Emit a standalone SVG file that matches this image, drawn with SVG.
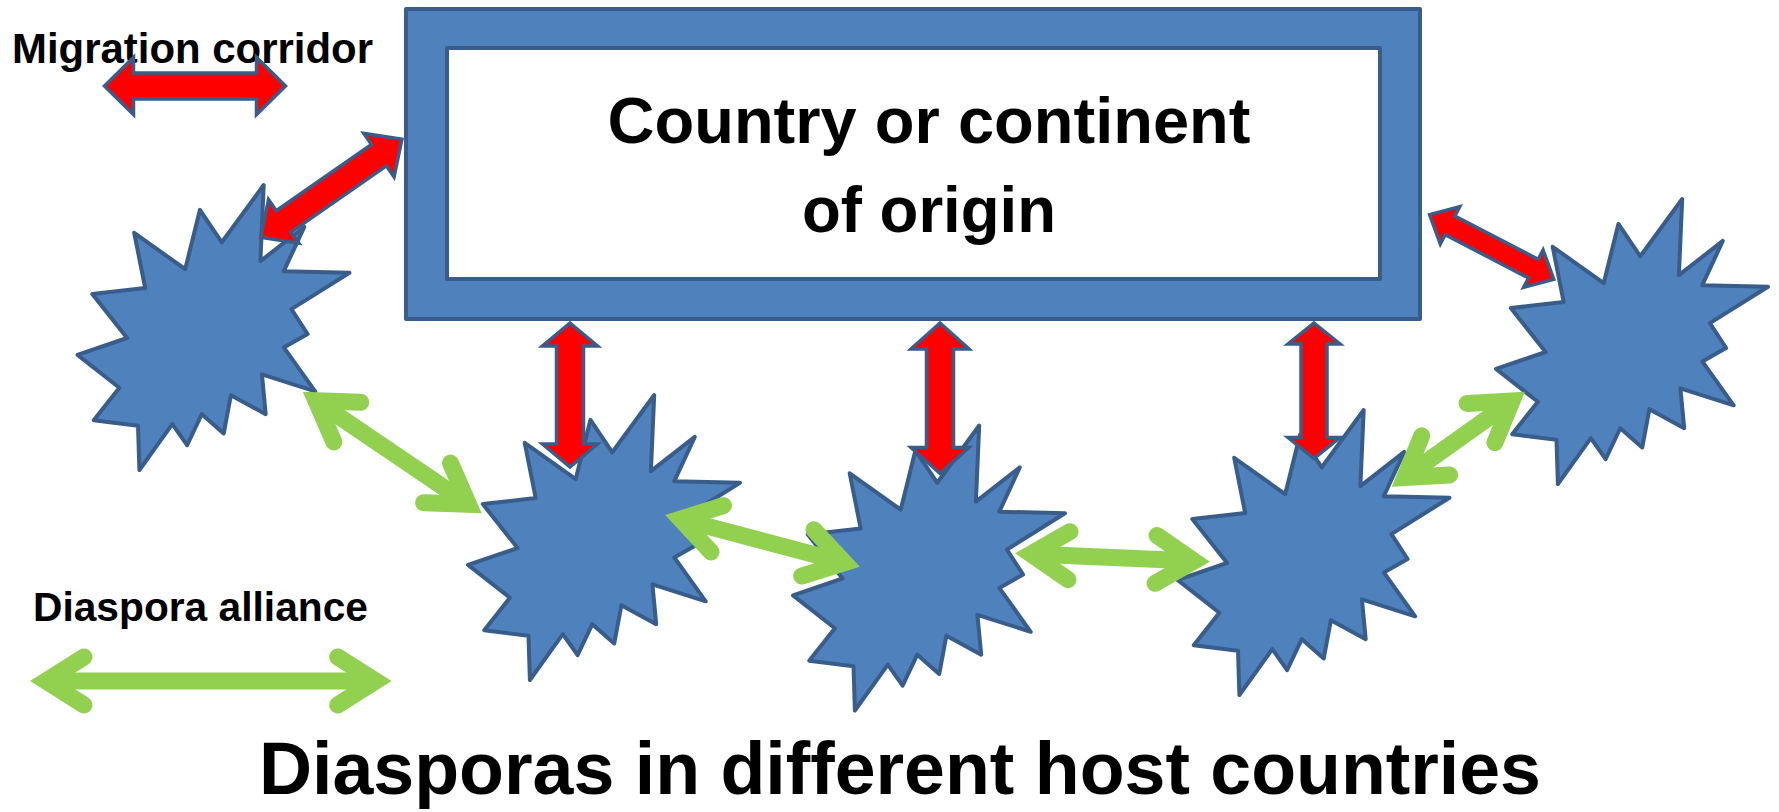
<svg xmlns="http://www.w3.org/2000/svg" xmlns:xlink="http://www.w3.org/1999/xlink" width="1779" height="812" viewBox="0 0 1779 812">
<style>
.blue{fill:#4F81BD;stroke:#385D8A;stroke-width:4;stroke-linejoin:round}
.red{fill:#FF0000;stroke:#385D8A;stroke-width:3.5;stroke-linejoin:miter}
.green{fill:none;stroke:#92D050;stroke-width:17;stroke-linecap:butt;marker-start:url(#ga);marker-end:url(#ga)}
.t{font-family:"Liberation Sans",Arial,sans-serif;font-weight:bold;fill:#000}
</style>
<defs>
<path id="star" d="M144.3,57.3 L186.2,0 L182.9,76.2 L226.8,41.9 L206.3,86.2 L272,87.7 L213.9,124.1 L230.1,149 L206.3,162.4 L237.7,206.3 L184.4,189.3 L188.2,229.2 L153.4,210.2 L146.2,248.6 L124.3,229.2 L109.6,260.1 L94.8,239.1 L61.9,285 L60.5,240.7 L16.2,235.2 L41.9,202.8 L0,169.9 L49.6,153 L14.8,109.1 L67.7,103.1 L56.7,47.8 L107.7,84.2 L122.4,24.9 Z"/>
<marker id="ga" markerUnits="userSpaceOnUse" orient="auto-start-reverse" refX="0" refY="0" markerWidth="1" markerHeight="1" overflow="visible" style="overflow:visible">
<path d="M-38,-24 L0,0 L-38,24" fill="none" stroke="#92D050" stroke-width="17" stroke-linecap="round" stroke-linejoin="miter"/>
</marker>
</defs>
<rect width="1779" height="812" fill="#FFFFFF"/>

<g id="origin">
<path class="blue" fill-rule="evenodd" d="M406,9 H1420 V319 H406 Z M447,48 V279 H1380 V48 Z"/>
<text class="t" x="929" y="143" font-size="65" text-anchor="middle" textLength="643" lengthAdjust="spacingAndGlyphs">Country or continent</text>
<text class="t" x="929" y="232" font-size="65" text-anchor="middle" textLength="254" lengthAdjust="spacingAndGlyphs">of origin</text>
</g>

<g id="diaspora1"><use xlink:href="#star" class="blue" x="77.5" y="185"/></g>
<g id="diaspora2"><use xlink:href="#star" class="blue" x="468" y="395"/></g>
<g id="diaspora3"><use xlink:href="#star" class="blue" x="793" y="425.5"/></g>
<g id="diaspora4"><use xlink:href="#star" class="blue" x="1177.5" y="410"/></g>
<g id="diaspora5"><use xlink:href="#star" class="blue" x="1496" y="199"/></g>

<g id="connectors">
<polygon class="red" transform="translate(331.3,188.3) rotate(-34.8)" points="-86,0 -58,-26.5 -58,-13 58,-13 58,-26.5 86,0 58,26.5 58,13 -58,13 -58,26.5"/>
<polygon class="red" transform="translate(1491.7,247) rotate(27.5)" points="-70,0 -47,-21 -47,-10.5 47,-10.5 47,-21 70,0 47,21 47,10.5 -47,10.5 -47,21"/>
<polygon class="red" points="570,323 597.5,346 583.5,346 583.5,444 597.5,444 570,467 542.5,444 556.5,444 556.5,346 542.5,346"/>
<polygon class="red" points="940,323 969,349 953.5,349 953.5,447.5 969,447.5 940,473.5 911,447.5 926.5,447.5 926.5,349 911,349"/>
<polygon class="red" points="1314,323 1340,344 1327,344 1327,437.5 1340,437.5 1314,458.5 1288,437.5 1301,437.5 1301,344 1288,344"/>
<path class="green" d="M315.9,400.7 L468.5,504.3"/>
<path class="green" d="M680.5,519.1 L844.5,562.6"/>
<path class="green" d="M1031,554 L1194,561"/>
<path class="green" d="M1404.7,477.4 L1512,401"/>
</g>

<g id="legend-corridor">
<text class="t" x="12" y="63" font-size="42" textLength="361" lengthAdjust="spacingAndGlyphs">Migration corridor</text>
<polygon class="red" transform="translate(195,86)" points="-90.5,0 -61.5,-28.5 -61.5,-13 61.5,-13 61.5,-28.5 90.5,0 61.5,28.5 61.5,13 -61.5,13 -61.5,28.5"/>
</g>

<g id="legend-alliance">
<text class="t" x="33" y="621" font-size="41" textLength="335" lengthAdjust="spacingAndGlyphs">Diaspora alliance</text>
<path class="green" d="M46,681 L375.7,681"/>
</g>

<g id="title">
<text class="t" x="259" y="794" font-size="74" textLength="1282" lengthAdjust="spacingAndGlyphs">Diasporas in different host countries</text>
</g>
</svg>
